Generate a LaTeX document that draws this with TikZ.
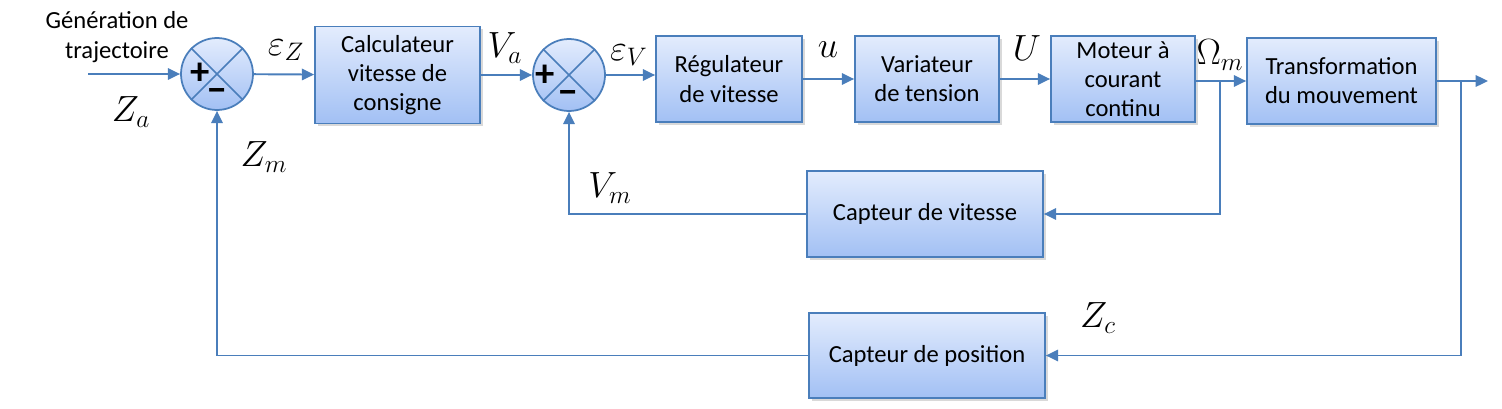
\documentclass[tikz,border=0pt]{standalone}
\usepackage{fontspec}
\setmainfont{Carlito}
\usepackage{tikz}
\usetikzlibrary{positioning,arrows.meta,shadows}
\definecolor{lineblue}{HTML}{4A7EBB}
\definecolor{boxtop}{HTML}{E3ECFD}
\definecolor{boxbot}{HTML}{A2C0F4}

\begin{document}
\begin{tikzpicture}[x=0.02cm,y=-0.02cm,>={Triangle[length=7pt,width=6.5pt]},
    link/.style={->,draw=lineblue,line width=1.1pt},
    block/.style={rectangle, draw=lineblue, line width=1pt, top color=boxtop, bottom color=boxbot,
      drop shadow={opacity=0.3,shadow xshift=1.5pt,shadow yshift=-1.5pt},
      align=center, inner sep=2pt, font=\fontsize{14}{16.6}\selectfont},
    sumnode/.style={circle, draw=lineblue, line width=1pt, top color=boxtop, bottom color=boxbot,
      minimum size=1.44cm, inner sep=0pt},
    sign/.style={font=\fontsize{22}{22}\bfseries\selectfont, inner sep=0pt},
    sig/.style={font=\fontsize{22}{22}\selectfont, inner sep=0pt}]

    \useasboundingbox (0,0) rectangle (1502,409);

    % chaine directe
    \node[sumnode] (s1) at (217,74) {};
    \node[block, minimum width=3.3cm, minimum height=1.94cm] (calc) at (397.5,75) {Calculateur\\vitesse de\\consigne};
    \node[sumnode] (s2) at (569,75) {};
    \node[block, minimum width=2.92cm, minimum height=1.72cm] (reg) at (729,79) {Régulateur\\de vitesse};
    \node[block, minimum width=2.88cm, minimum height=1.72cm] (var) at (927,79) {Variateur\\de tension};
    \node[block, minimum width=2.88cm, minimum height=1.72cm] (mot) at (1123,79) {Moteur à\\courant\\continu};
    \node[block, minimum width=3.78cm, minimum height=1.72cm] (trans) at (1341.5,81) {Transformation\\du mouvement};

    % capteurs
    \node[block, minimum width=4.72cm, minimum height=1.72cm] (cv) at (925,214) {Capteur de vitesse};
    \node[block, minimum width=4.72cm, minimum height=1.7cm] (cp) at (927,355.5) {Capteur de position};

    % comparateurs
    \foreach \s in {s1,s2} {
      \draw[lineblue, line width=0.9pt] (\s.north west) -- (\s.south east) (\s.north east) -- (\s.south west);
    }
    \node[sign] (p1) at (200,74) {+};
    \node[sign] (m1) at (217,95) {−};
    \node[sign] (p2) at (545,76) {+};
    \node[sign] (m2) at (568,97) {−};

    \coordinate (in) at (88,74);
    \coordinate (b1) at (1220,81);
    \coordinate (b2) at (1461,81);
    \coordinate (out) at (1488,81);

    \node[align=center, font=\fontsize{14}{17}\selectfont] (gen) at (117,37) {Génération de\\trajectoire};

    % liaisons
    \draw[link] (in) -- (s1);
    \draw[link] (s1) -- (calc);
    \draw[link] (calc) -- (s2);
    \draw[link] (s2.east) -- (s2.east -| reg.west);
    \draw[link] (reg) -- (var);
    \draw[link] (var) -- (mot);
    \draw[link] (mot.east |- trans.west) -- (trans);
    \draw[link] (trans) -- (out);
    \draw[link] (b1) |- (cv);
    \draw[link] (cv) -| (s2);
    \draw[link] (b2) |- (cp);
    \draw[link] (cp) -| (s1);

    % grandeurs
    \node[sig] (za) at (131,112) {$Z_a$};
    \node[sig] (ez) at (286,50) {$\varepsilon_Z$};
    \node[sig] (va) at (505,48) {$V_a$};
    \node[sig] (ev) at (629,55) {$\varepsilon_V$};
    \node[sig] (su) at (828,50) {$u$};
    \node[sig] (sU) at (1027,48) {$U$};
    \node[sig] (om) at (1220,55) {$\Omega_m$};
    \node[sig] (zm) at (264,157) {$Z_m$};
    \node[sig] (vm) at (610,188) {$V_m$};
    \node[sig] (zc) at (1098,318) {$Z_c$};
\end{tikzpicture}
\end{document}
